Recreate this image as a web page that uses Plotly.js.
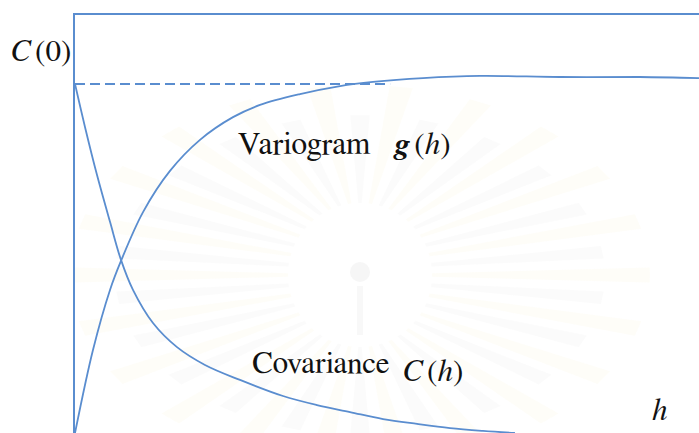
<!DOCTYPE html>
<html>
<head>
<meta charset="utf-8">
<script src="https://cdn.plot.ly/plotly-3.0.1.min.js"></script>
<style>
  html, body { margin: 0; padding: 0; background: #ffffff; }
  #chart { width: 699px; height: 433px; }
</style>
</head>
<body>
<div id="chart"></div>
<script>
// Lag distance h (arbitrary units) and the two model curves.
const variogramH = [0, 0.288, 0.561, 0.737, 1.09, 1.522, 2.003, 2.532, 2.965, 3.606, 4.247, 4.776, 5.577, 6.49, 7.77, 9.05, 10];
const variogramG = [0, 0.238, 0.41, 0.493, 0.633, 0.751, 0.84, 0.905, 0.94, 0.971, 0.994, 1.006, 1.017, 1.023, 1.02, 1.02, 1.017];

const covarianceH = [0, 0.16, 0.353, 0.561, 0.737, 0.929, 1.25, 1.635, 2.083, 2.644, 3.333, 3.878, 4.407, 4.936, 5.481, 6.01, 6.538, 7.05];
const covarianceC = [1.0, 0.877, 0.739, 0.605, 0.496, 0.41, 0.315, 0.246, 0.195, 0.152, 0.106, 0.08, 0.06, 0.04, 0.026, 0.014, 0.006, 0];

// Sill level C(0) shown as a dashed reference line.
const sillH = [0, 5.05];
const sillC = [1.0, 1.0];

const lineBlue = '#5a8dcf';

// Pick the first installed Times-like face for the labels.
function fontAvailable(name) {
  const ctx = document.createElement('canvas').getContext('2d');
  const sample = 'Variogram Covariance mmmwwwiiilll 0123';
  return ['monospace', 'sans-serif', 'cursive'].every(fb => {
    ctx.font = '40px ' + fb;
    const w0 = ctx.measureText(sample).width;
    ctx.font = '40px "' + name + '", ' + fb;
    return ctx.measureText(sample).width !== w0;
  });
}
const serifCandidates = ['Liberation Serif', 'Tinos', 'Times New Roman', 'Times', 'Nimbus Roman', 'Nimbus Roman No9 L',
  'FreeSerif', 'DejaVu Serif', 'Noto Serif', 'Noto Serif CJK SC', 'Noto Serif CJK JP', 'Source Serif Pro', 'Georgia'];
const serifFace = serifCandidates.find(fontAvailable);
const serif = (serifFace ? '"' + serifFace + '", ' : '') + 'serif';

// Plot geometry (pixels) for the decorative emblem behind the curves.
const W = 699, H = 433, L = 75, T = 15;
const xMax = 10, yMax = 1.1977;
const pxToX = px => (px - L) / ((W - L) / xMax);
const pyToY = py => (H - py) / ((H - T) / yMax);
const pxToPaper = px => (px - L) / (W - L);
const pyToPaper = py => (H - py) / (H - T);

function emblemShapes() {
  const shapes = [];
  const cx = 360, cy = 275, n = 44;
  for (let i = 0; i < n; i++) {
    const a = (i / n) * 2 * Math.PI;
    const half = 0.04;
    const long = i % 2 === 0;
    const rIn = 72;
    const rx = long ? 290 : 245, ry = long ? 190 : 160;
    const p = (r1, r2, ang) => [cx + r1 * Math.cos(ang), cy - r2 * Math.sin(ang)];
    const pts = [
      p(rIn, rIn, a - half * 0.6),
      p(rx, ry, a - half),
      p(rx, ry, a + half),
      p(rIn, rIn, a + half * 0.6)
    ];
    const path = 'M' + pts.map(q => pxToX(q[0]).toFixed(4) + ',' + pyToY(q[1]).toFixed(4)).join('L') + 'Z';
    shapes.push({
      type: 'path', xref: 'x', yref: 'y', path: path, layer: 'below',
      fillcolor: long ? 'rgba(250,232,185,0.10)' : 'rgba(205,205,205,0.08)',
      line: { width: 0 }
    });
  }
  // small figure in the centre
  shapes.push({
    type: 'circle', xref: 'x', yref: 'y', layer: 'below',
    x0: pxToX(350), x1: pxToX(370), y0: pyToY(262), y1: pyToY(282),
    fillcolor: 'rgba(228,228,228,0.35)', line: { width: 0 }
  });
  shapes.push({
    type: 'rect', xref: 'x', yref: 'y', layer: 'below',
    x0: pxToX(357), x1: pxToX(363), y0: pyToY(286), y1: pyToY(335),
    fillcolor: 'rgba(232,232,232,0.3)', line: { width: 0 }
  });
  return shapes;
}

const traces = [
  {
    x: variogramH, y: variogramG, type: 'scatter', mode: 'lines',
    line: { color: lineBlue, width: 1.8, shape: 'spline', smoothing: 1 },
    hoverinfo: 'skip'
  },
  {
    x: covarianceH, y: covarianceC, type: 'scatter', mode: 'lines',
    line: { color: lineBlue, width: 1.8, shape: 'spline', smoothing: 1 },
    hoverinfo: 'skip'
  },
  {
    x: sillH, y: sillC, type: 'scatter', mode: 'lines',
    line: { color: lineBlue, width: 1.8, dash: '10px,5px' },
    hoverinfo: 'skip'
  }
];

// Labels are placed in paper units so the ones outside the axes still show.
const ann = (text, px, py, size) => ({
  text: text, x: pxToPaper(px), y: pyToPaper(py), xref: 'paper', yref: 'paper',
  xanchor: 'left', yanchor: 'middle', showarrow: false,
  font: { family: serif, size: size, color: '#111111' }
});

const thin = '\u2009';

const layout = {
  width: W, height: H,
  margin: { l: L, r: 0, t: T, b: 0, pad: 0 },
  paper_bgcolor: '#ffffff', plot_bgcolor: '#ffffff',
  showlegend: false,
  font: { family: serif },
  xaxis: {
    range: [0, xMax], side: 'top', showline: true, linecolor: lineBlue, linewidth: 2.2,
    showgrid: false, zeroline: false, showticklabels: false, ticks: '', fixedrange: true
  },
  yaxis: {
    range: [0, yMax], showline: true, linecolor: lineBlue, linewidth: 2.2,
    showgrid: false, zeroline: false, showticklabels: false, ticks: '', fixedrange: true
  },
  shapes: emblemShapes(),
  annotations: [
    ann('<i>C</i>' + thin + '(0)', 9, 51, 31),
    ann('Variogram', 236, 145, 31.5),
    ann('<b><i>g</i></b>' + thin + '(<i>h</i>)', 391, 145, 31),
    ann('Covariance', 250, 363, 31),
    ann('<i>C</i>' + thin + '(<i>h</i>)', 401, 371, 31),
    ann('<i>h</i>', 650, 410, 31)
  ]
};

Plotly.newPlot('chart', traces, layout, { staticPlot: true, displayModeBar: false });
</script>
</body>
</html>
